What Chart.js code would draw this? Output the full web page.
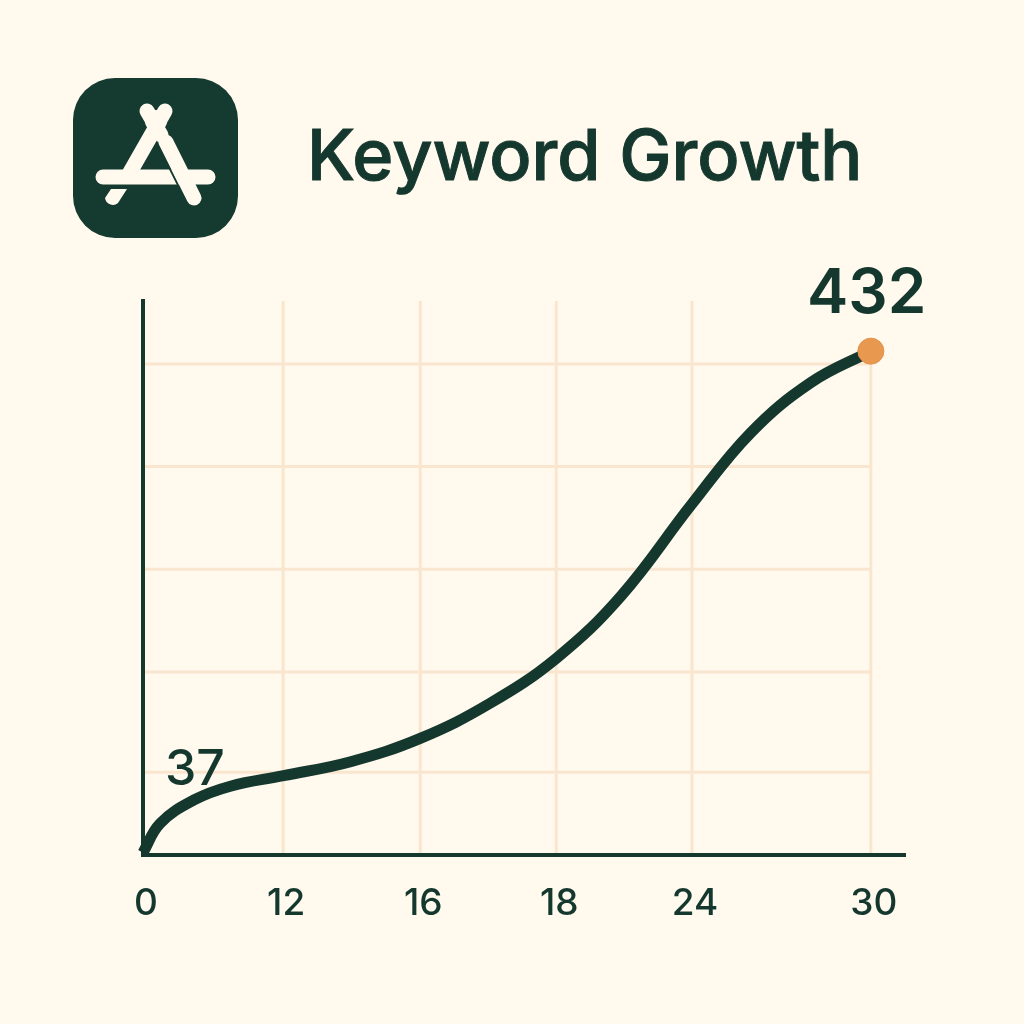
<!DOCTYPE html>
<html>
<head>
<meta charset="utf-8">
<title>Keyword Growth</title>
<script src="https://cdn.jsdelivr.net/npm/chart.js@4"></script>
<style>
    html, body { margin: 0; padding: 0; background: #fff9ee; }
    #wrap { position: relative; width: 1024px; height: 1024px; overflow: hidden; }
    #chart { position: absolute; left: 0; top: 0; }
    #icon { position: absolute; left: 0; top: 0; }
    h1 {
        position: absolute; left: 307px; top: 112px; margin: 0;
        font: 500 70px Inter, sans-serif; color: #15382e; white-space: nowrap;
        -webkit-text-stroke: 1px #15382e;
    }
</style>
</head>
<body>
<div id="wrap">
    <canvas id="chart" width="1024" height="1024"></canvas>
    <svg id="icon" width="1024" height="260" viewBox="0 0 1024 260">
        <rect x="73" y="78" width="165" height="160" rx="42" fill="#153a30"/>
        <g fill="none" stroke="#fff9ee" stroke-width="15" stroke-linecap="round">
            <path d="M165 111 L129 174"/>
            <path d="M147 111 L161 135"/>
            <path d="M103 177 L208 177"/>
        </g>
        <circle cx="156" cy="121" r="11" fill="#fff9ee"/>
        <path d="M158 145 L178 185" fill="none" stroke="#153a30" stroke-width="2"/>
        <path d="M166 142 L194 198" fill="none" stroke="#fff9ee" stroke-width="15" stroke-linecap="round"/>
        <path d="M111 189 L127 189 L118 203 A8 8 0 0 1 105 198 Z" fill="#fff9ee"/>
    </svg>
    <h1>Keyword Growth</h1>
</div>
<script>
// axis labels are unevenly spaced in the picture, so x is a slot position
const tickLabels = ["0", "12", "16", "18", "24", "30"];
const tickSlots = [0, 1.026, 2.03, 3.026, 4.02, 5.33];
const gridValues = [71, 157, 245, 333, 421];

const curveSlots = [0, 0.125, 0.37, 0.64, 1.03, 1.52, 2.03, 2.54, 3.03, 3.5, 4.02, 4.45, 4.89, 5.33];
const curveValues = [2, 27, 47, 59, 68, 80, 100, 130, 169, 222, 301, 362, 405, 432];

const firstLabel = "37";
const lastLabel = "432";

const dark = "#15382e";
const gridColor = "#fae5cf";
const orange = "#e8994f";

// light grid, stops at the last point instead of the end of the axis
const gridPlugin = {
    id: "softGrid",
    beforeDatasetsDraw(chart) {
        const { ctx, scales: { x, y } } = chart;
        const lastX = x.getPixelForValue(tickSlots[tickSlots.length - 1]);
        ctx.save();
        ctx.strokeStyle = gridColor;
        ctx.lineWidth = 3;
        y.ticks.forEach(t => {
            const py = y.getPixelForValue(t.value);
            ctx.beginPath();
            ctx.moveTo(x.left + 2, py);
            ctx.lineTo(lastX, py);
            ctx.stroke();
        });
        tickSlots.slice(1).forEach((s, i) => {
            const px = x.getPixelForValue(s);
            const isLast = i === tickSlots.length - 2;
            const top = isLast ? y.getPixelForValue(curveValues[curveValues.length - 1]) : y.top;
            ctx.beginPath();
            ctx.moveTo(px, top);
            ctx.lineTo(px, y.bottom - 2);
            ctx.stroke();
        });
        ctx.restore();
    }
};

// the two value labels
const valuePlugin = {
    id: "valueLabels",
    afterDatasetsDraw(chart) {
        const { ctx, scales: { x, y } } = chart;
        ctx.save();
        ctx.fillStyle = dark;
        ctx.textAlign = "center";
        ctx.textBaseline = "alphabetic";
        ctx.font = "500 50px Inter, sans-serif";
        ctx.fillText(firstLabel, x.getPixelForValue(0.38), y.getPixelForValue(60));
        ctx.font = "600 62px Inter, sans-serif";
        ctx.fillText(lastLabel, x.getPixelForValue(5.30), y.getPixelForValue(465));
        ctx.restore();
    }
};

new Chart(document.getElementById("chart"), {
    type: "line",
    data: {
        datasets: [{
            label: "Keyword Growth",
            data: curveSlots.map((s, i) => ({ x: s, y: curveValues[i] })),
            borderColor: dark,
            borderWidth: 11,
            borderCapStyle: "butt",
            tension: 0.4,
            clip: false,
            pointRadius: ctx => ctx.dataIndex === curveValues.length - 1 ? 13 : 0,
            pointBackgroundColor: orange,
            pointBorderColor: "#e39048",
            pointBorderWidth: 1
        }]
    },
    options: {
        responsive: false,
        animation: false,
        layout: { padding: { left: 143, top: 301, right: 119, bottom: 0 } },
        plugins: { legend: { display: false }, tooltip: { enabled: false } },
        scales: {
            x: {
                type: "linear",
                min: 0,
                max: 5.58,
                afterBuildTicks: s => { s.ticks = tickSlots.map(v => ({ value: v })); },
                afterFit: s => { s.height = 169; },
                grid: { display: false },
                border: { color: dark, width: 4 },
                ticks: {
                    callback: (v, i) => tickLabels[i],
                    autoSkip: false,
                    maxRotation: 0,
                    padding: 19,
                    labelOffset: 3,
                    color: dark,
                    font: { family: "Inter, sans-serif", size: 37, weight: "500" }
                }
            },
            y: {
                min: 0,
                max: 475,
                afterBuildTicks: s => { s.ticks = gridValues.map(v => ({ value: v })); },
                afterFit: s => { s.width = 0; },
                grid: { display: false },
                border: { color: dark, width: 4 },
                ticks: { display: false }
            }
        }
    },
    plugins: [gridPlugin, valuePlugin]
});
</script>
</body>
</html>
